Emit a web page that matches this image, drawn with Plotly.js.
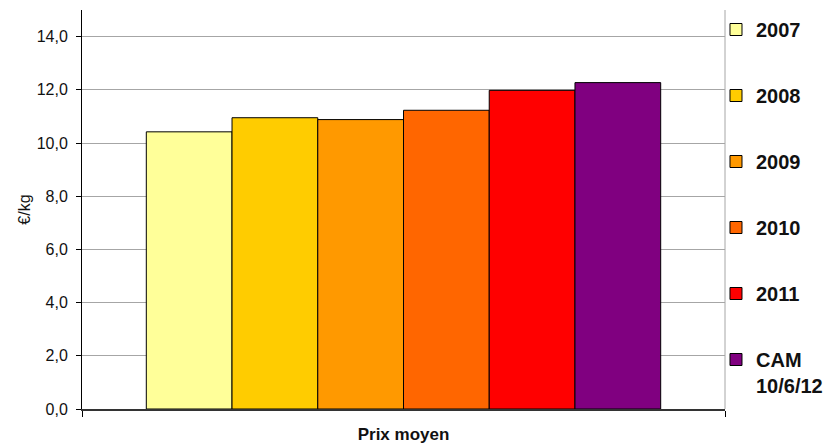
<!DOCTYPE html>
<html>
<head>
<meta charset="utf-8">
<script src="https://cdn.plot.ly/plotly-3.0.1.min.js"></script>
<style>html,body{margin:0;padding:0;background:#fff;}#chart{width:830px;height:447px;}</style>
</head>
<body>
<div id="chart"></div>
<script>
// Data
const categories = ['Prix moyen'];
const seriesNames = ['2007', '2008', '2009', '2010', '2011', 'CAM<br>10/6/12'];
const seriesValues = [10.42, 10.95, 10.88, 11.23, 11.98, 12.27];
const yTickVals = [0, 2, 4, 6, 8, 10, 12, 14];

// Styles
const seriesColors = ['#FFFF99', '#FFCC00', '#FF9900', '#FF6600', '#FF0000', '#800080'];

const traces = seriesNames.map((name, i) => ({
  type: 'bar',
  name: name,
  x: categories,
  y: [seriesValues[i]],
  legendgroup: 'g' + i,
  marker: {color: seriesColors[i], line: {color: '#000', width: 1}},
  hoverinfo: 'name+y'
}));

const layout = {
  width: 830, height: 447,
  margin: {l: 82, r: 105, t: 10, b: 38, autoexpand: false},
  paper_bgcolor: '#fff', plot_bgcolor: '#fff',
  separators: ',.',
  barmode: 'group',
  bargap: 0.2, bargroupgap: 0,
  font: {family: 'Liberation Sans, Arial, sans-serif', color: '#000'},
  xaxis: {
    type: 'category',
    tickson: 'boundaries',
    ticks: 'outside', ticklen: 6, tickcolor: '#000', tickwidth: 1,
    showline: true, linecolor: '#333', linewidth: 1.5,
    showgrid: false, zeroline: false,
    automargin: false,
    ticklabelstandoff: 9,
    tickfont: {family: 'Liberation Sans Narrow, Arial Narrow, Liberation Sans, sans-serif', size: 17, weight: 'bold', color: '#111'}
  },
  yaxis: {
    range: [0, 15],
    tickvals: yTickVals,
    tickformat: '.1f',
    ticks: 'outside', ticklen: 5, tickcolor: '#000', tickwidth: 1,
    showline: true, linecolor: '#000', linewidth: 1,
    showgrid: true, gridcolor: '#a6a6a6', gridwidth: 1,
    zeroline: false,
    automargin: false,
    ticklabelstandoff: 5,
    tickfont: {size: 16, color: '#111'},
    title: {text: '€/kg', font: {size: 16, color: '#111'}, standoff: 2}
  },
  legend: {
    x: 0.986, xanchor: 'left', xref: 'paper',
    y: 1.0, yanchor: 'top',
    bgcolor: 'rgba(0,0,0,0)',
    traceorder: 'grouped',
    tracegroupgap: 37,
    valign: 'top',
    font: {size: 20, weight: 'bold', color: '#111'}
  },
  shapes: [{
    type: 'line', xref: 'paper', yref: 'paper',
    x0: 1, x1: 1, y0: 0, y1: 1,
    line: {color: '#a6a6a6', width: 1}
  }]
};

Plotly.newPlot('chart', traces, layout, {displayModeBar: false, staticPlot: true});
</script>
</body>
</html>
